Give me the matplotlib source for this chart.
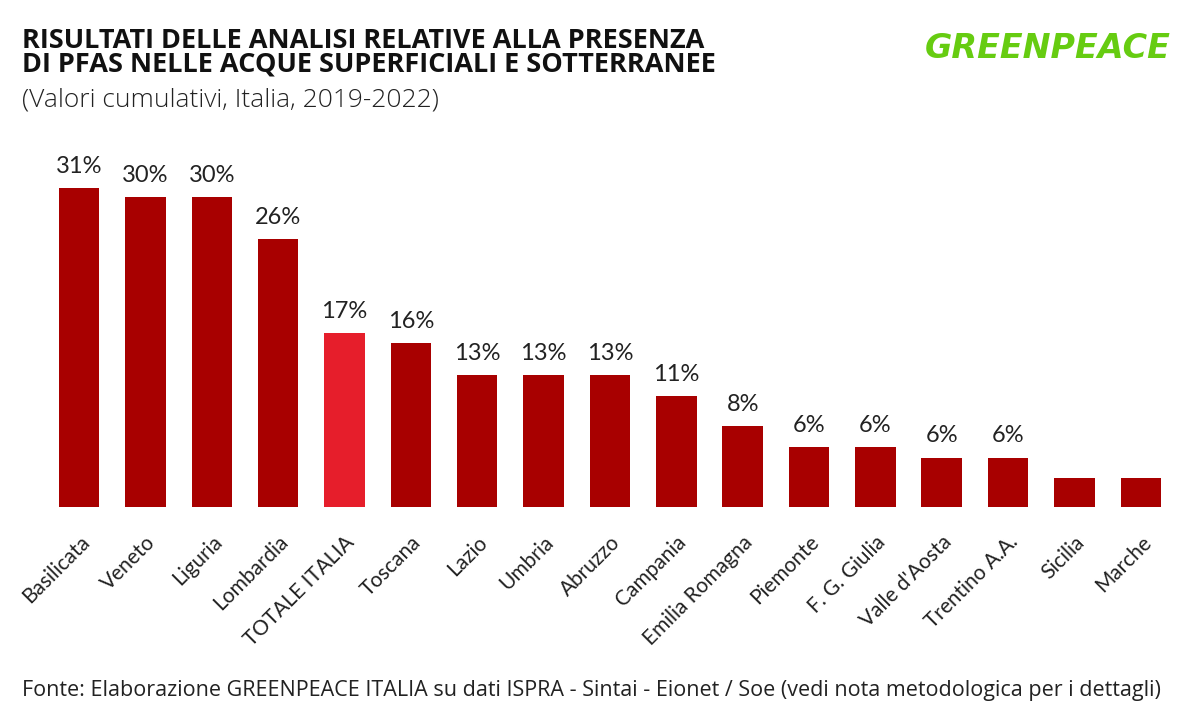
"""PFAS nelle acque superficiali e sotterranee - bar chart per regione."""
import matplotlib.pyplot as plt

regions = ["Basilicata", "Veneto", "Liguria", "Lombardia", "TOTALE ITALIA",
           "Toscana", "Lazio", "Umbria", "Abruzzo", "Campania",
           "Emilia Romagna", "Piemonte", "F. G. Giulia", "Valle d'Aosta",
           "Trentino A.A.", "Sicilia", "Marche"]
values = [31.0, 30.1, 30.1, 26.0, 16.9, 15.9, 12.8, 12.8, 12.8, 10.8,
          7.9, 5.8, 5.8, 4.8, 4.8, 2.8, 2.8]
value_labels = ["31%", "30%", "30%", "26%", "17%", "16%", "13%", "13%", "13%",
                "11%", "8%", "6%", "6%", "6%", "6%", "", ""]

DARK_RED = "#a80000"
TOTAL_RED = "#e61e2b"
TEXT = "#222222"

plt.rcParams["font.family"] = ["Lato", "DejaVu Sans"]

fig = plt.figure(figsize=(12, 7.25), dpi=100)
ax = fig.add_axes([0.0383, 0.3007, 0.94, 0.44])

colors = [TOTAL_RED if r == "TOTALE ITALIA" else DARK_RED for r in regions]
x = range(len(regions))
bars = ax.bar(x, values, width=0.61, color=colors)

for rect, lab in zip(bars, value_labels):
    if lab:
        ax.annotate(lab, (rect.get_x() + rect.get_width() / 2, rect.get_height()),
                    xytext=(0, 8), textcoords="offset points",
                    ha="center", va="bottom", fontsize=17, color=TEXT,
                    clip_on=False)

ax.set_xlim(-0.5, len(regions) - 0.5)
ax.set_ylim(0, 31)
ax.set_xticks(list(x))
ax.set_xticklabels(regions, rotation=45, ha="right", rotation_mode="anchor",
                   fontsize=15, color=TEXT)
ax.tick_params(axis="x", length=0, pad=18)
ax.set_yticks([])
for s in ax.spines.values():
    s.set_visible(False)

# title block
fig.text(0.018, 0.962, "RISULTATI DELLE ANALISI RELATIVE ALLA PRESENZA\n"
         "DI PFAS NELLE ACQUE SUPERFICIALI E SOTTERRANEE",
         fontsize=19.5, fontweight="bold", color="#111111",
         family=["Open Sans", "DejaVu Sans"], va="top", linespacing=0.9)
fig.text(0.018, 0.862, "(Valori cumulativi, Italia, 2019-2022)",
         fontsize=19, fontweight="light", color=TEXT,
         family=["Open Sans", "DejaVu Sans"], va="center")

# logo
fig.text(0.873, 0.933, "GREENPEACE", fontsize=24, fontweight="heavy",
         style="italic", color="#66cc11", ha="center", va="center",
         family=["DejaVu Sans"])

fig.text(0.018, 0.048,
         "Fonte: Elaborazione GREENPEACE ITALIA su dati ISPRA - Sintai - Eionet / Soe "
         "(vedi nota metodologica per i dettagli)",
         fontsize=15.5, color=TEXT, family=["Open Sans", "DejaVu Sans"],
         va="center")

fig.savefig("out.png", dpi=100)
